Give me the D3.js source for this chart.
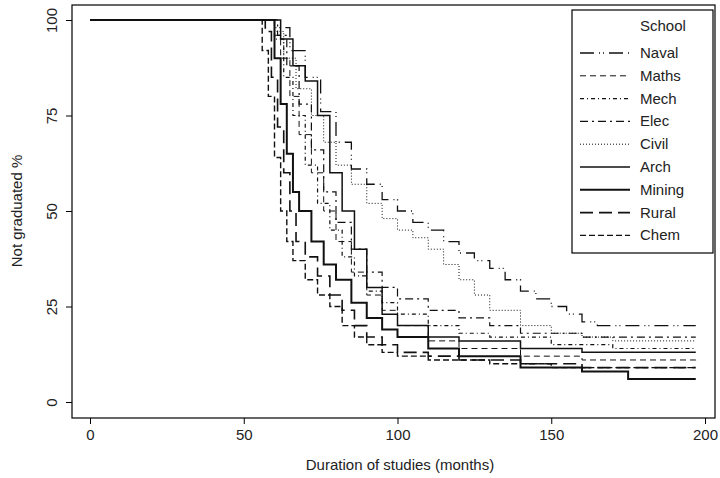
<!DOCTYPE html>
<html><head><meta charset="utf-8">
<script src="https://cdn.jsdelivr.net/npm/d3@7"></script>
<style>body{margin:0;background:#fff}text{font-family:"Liberation Sans",Arial,sans-serif}</style>
</head><body>
<svg id="c" width="720" height="478"></svg>
<script>
// stepped survival curves, [month, % not graduated]
const naval = [[0,100],[55,100],[60,98],[65,92],[70,85],[75,76],[80,68],[85,61],[90,57],[95,53],[100,50],[105,47],[110,45],[115,42],[120,39],[125,37],[130,35],[135,32],[140,29],[145,27],[150,25],[155,23],[160,21],[165,20],[197,20]];
const maths = [[0,100],[57,100],[60,96],[62,90],[65,80],[68,70],[72,60],[76,50],[80,42],[85,34],[90,28],[95,24],[100,20],[110,16],[120,14],[140,12],[160,11],[197,10]];
const mech = [[0,100],[57,100],[60,95],[63,85],[66,75],[70,62],[74,52],[78,45],[82,38],[86,33],[90,29],[95,26],[100,23],[110,20],[120,18],[130,17],[150,15],[170,14],[197,14]];
const elec = [[0,100],[58,100],[61,96],[64,88],[68,78],[72,66],[76,55],[80,47],[85,40],[90,34],[95,30],[100,27],[110,24],[120,22],[130,20],[140,18],[160,17],[197,17]];
const civil = [[0,100],[56,100],[60,97],[63,90],[67,82],[72,75],[76,68],[80,62],[85,57],[90,52],[95,48],[100,45],[105,43],[110,40],[115,36],[120,32],[125,28],[130,24],[140,20],[150,18],[160,17],[170,16],[197,16]];
const arch = [[0,100],[58,100],[62,95],[66,88],[70,84],[74,75],[78,60],[82,50],[86,40],[90,30],[95,23],[100,20],[110,17],[120,16],[140,14],[160,13],[197,13]];
const mining = [[0,100],[57,100],[60,90],[62,78],[64,65],[66,55],[68,50],[72,42],[76,36],[80,32],[85,26],[90,22],[95,19],[100,17],[110,14],[120,12],[140,9],[160,8],[175,6],[197,6]];
const rural = [[0,100],[55,100],[57,97],[59,85],[61,72],[63,60],[65,50],[67,42],[70,38],[74,33],[78,28],[82,24],[86,20],[90,17],[95,15],[100,13],[110,12],[120,11],[140,10],[160,9],[197,9]];
const chem = [[0,100],[54,100],[56,92],[58,80],[60,64],[62,50],[64,42],[66,37],[70,32],[74,28],[78,25],[82,20],[86,17],[90,15],[95,13],[100,12],[110,11],[130,10],[150,9],[197,9]];

const schools = ["Naval","Maths","Mech","Elec","Civil","Arch","Mining","Rural","Chem"];
const seriesData = [naval, maths, mech, elec, civil, arch, mining, rural, chem];
const dashes = ["14,5,1,3,1,5","6,4","4,3,1,3","8,4,2,4","1,2",null,null,"13,6","6,3"];
const widths = [1.3,1,1.2,1.2,1,1.5,2,1.6,1.4];
const xTicks = [0,50,100,150,200];
const yTicks = [0,25,50,75,100];

const svg = d3.select("#c");
const x = d3.scaleLinear().domain([0,200]).range([90,705]);
const y = d3.scaleLinear().domain([0,100]).range([402,20]);

// frame
svg.append("rect").attr("x",72).attr("y",5).attr("width",643).attr("height",413)
  .attr("fill","none").attr("stroke","#000").attr("stroke-width",1.2);

const xa = svg.append("g").attr("transform","translate(0,418)")
  .call(d3.axisBottom(x).tickValues(xTicks).tickSize(6).tickPadding(5));
const ya = svg.append("g").attr("transform","translate(72,0)")
  .call(d3.axisLeft(y).tickValues(yTicks).tickSize(6));
[xa,ya].forEach(a=>{a.select(".domain").remove();a.selectAll("text").attr("font-size",15).attr("fill","#222");});
ya.selectAll("text").attr("text-anchor","middle").attr("x",0).attr("y",0).attr("dy","0.35em")
  .attr("transform","translate(-20,0) rotate(-90)");

svg.append("text").attr("x",400).attr("y",470).attr("text-anchor","middle")
  .attr("font-size",15).attr("fill","#222").text("Duration of studies (months)");
svg.append("text").attr("transform","translate(22,211) rotate(-90)").attr("text-anchor","middle")
  .attr("font-size",15).attr("fill","#222").text("Not graduated  %");

const line = d3.line().x(d=>x(d[0])).y(d=>y(d[1])).curve(d3.curveStepAfter);
seriesData.forEach((s,i)=>{
  svg.append("path").attr("d",line(s)).attr("fill","none").attr("stroke","#111")
    .attr("stroke-width",widths[i]).attr("stroke-dasharray",dashes[i]);
});

// legend
const lg = svg.append("g");
lg.append("rect").attr("x",572).attr("y",10).attr("width",141).attr("height",243)
  .attr("fill","#fff").attr("stroke","#000").attr("stroke-width",1.2);
lg.append("text").attr("x",640).attr("y",31).attr("font-size",15).attr("fill","#222").text("School");
schools.forEach((n,i)=>{
  const yy = 53 + i*22.8;
  lg.append("line").attr("x1",580).attr("x2",630).attr("y1",yy).attr("y2",yy)
    .attr("stroke","#111").attr("stroke-width",widths[i]).attr("stroke-dasharray",dashes[i]);
  lg.append("text").attr("x",640).attr("y",yy+5).attr("font-size",15).attr("fill","#222").text(n);
});
</script>
</body></html>
